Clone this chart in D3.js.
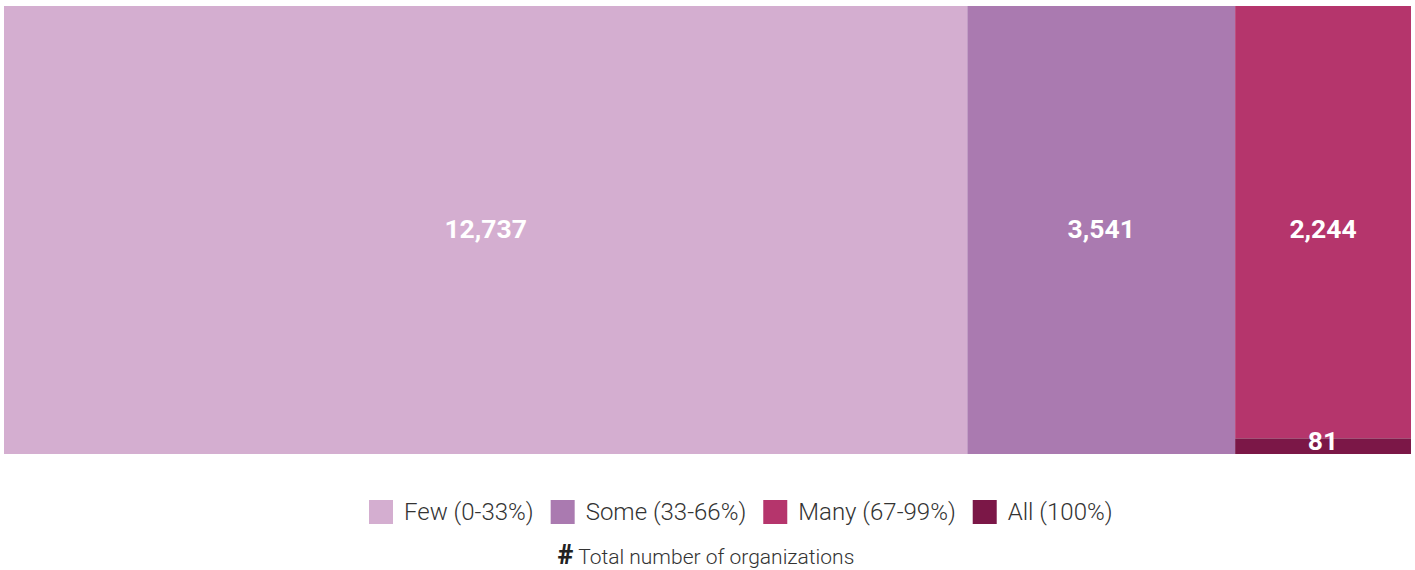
<!DOCTYPE html>
<html>
<head>
<meta charset="utf-8">
<script src="https://cdn.jsdelivr.net/npm/d3@7"></script>
<style>
  body { margin: 0; background: #fff; }
  svg { display: block; font-family: Roboto, sans-serif; }
</style>
</head>
<body>
<div id="chart"></div>
<script>
var W = 1415;
var H = 570;

// data
var categories = ['Few (0-33%)', 'Some (33-66%)', 'Many (67-99%)', 'All (100%)'];
var keys = ['few', 'some', 'many', 'all'];
var counts = [12737, 3541, 2244, 81];
var colors = ['#d4aed0', '#aa7ab0', '#b5356c', '#7b1747'];
// "many" and "all" share one column
var groupOf = ['few', 'some', 'manyAll', 'manyAll'];
var footnote = 'Total number of organizations';

var box = { x0: 4, y0: 6, x1: 1411, y1: 454 };

var svg = d3.select('#chart')
  .append('svg')
  .attr('width', W)
  .attr('height', H);

// build hierarchy: root -> groups -> leaves
var groups = [];
groupOf.forEach(function (g, i) {
  var grp = groups.find(function (d) { return d.name === g; });
  if (!grp) { grp = { name: g, children: [] }; groups.push(grp); }
  grp.children.push({ name: keys[i], value: counts[i], idx: i });
});

var root = d3.hierarchy({ name: 'root', children: groups })
  .sum(function (d) { return d.value || 0; });

d3.treemap()
  .tile(d3.treemapSliceDice)
  .size([box.x1 - box.x0, box.y1 - box.y0])
  .round(false)(root);

var color = d3.scaleOrdinal().domain(keys).range(colors);
var fmt = d3.format(',');

var cells = svg.append('g')
  .attr('transform', 'translate(' + box.x0 + ',' + box.y0 + ')')
  .selectAll('g')
  .data(root.leaves())
  .enter()
  .append('g');

cells.append('rect')
  .attr('x', function (d) { return d.x0; })
  .attr('y', function (d) { return d.y0; })
  .attr('width', function (d) { return d.x1 - d.x0; })
  .attr('height', function (d) { return d.y1 - d.y0; })
  .attr('fill', function (d) { return color(d.data.name); });

cells.append('text')
  .text(function (d) { return fmt(d.data.value); })
  .attr('x', function (d) { return (d.x0 + d.x1) / 2; })
  .attr('y', function (d) {
    // centre in the column, but keep small cells' labels near their bottom
    var h = d.y1 - d.y0;
    if (h < 40) return d.y1 - 13;
    return (d.parent.y0 + d.parent.y1) / 2 - 1;
  })
  .attr('dy', '0.35em')
  .attr('text-anchor', 'middle')
  .attr('font-size', '26.5px')
  .attr('font-weight', 'bold')
  .attr('fill', '#ffffff');

// legend
var legend = svg.append('g').attr('transform', 'translate(369,500)');
var lx = 0;
var items = legend.selectAll('g')
  .data(categories)
  .enter()
  .append('g');

items.append('rect')
  .attr('width', 24)
  .attr('height', 24)
  .attr('fill', function (d, i) { return colors[i]; });

items.append('text')
  .text(function (d) { return d; })
  .attr('x', 35)
  .attr('y', 12)
  .attr('dy', '0.35em')
  .attr('font-size', '24px')
  .attr('font-weight', 300)
  .attr('fill', '#333');

items.each(function () {
  var g = d3.select(this);
  g.attr('transform', 'translate(' + lx + ',0)');
  lx += 35 + g.select('text').node().getComputedTextLength() + 17;
});

var note = svg.append('text')
  .attr('x', 706)
  .attr('y', 564)
  .attr('text-anchor', 'middle')
  .attr('fill', '#333');
note.append('tspan')
  .text('#')
  .attr('font-size', '27px')
  .attr('font-weight', 900)
  .attr('fill', '#222');
note.append('tspan')
  .text(' ' + footnote)
  .attr('font-size', '21px')
  .attr('font-weight', 300);
</script>
</body>
</html>
